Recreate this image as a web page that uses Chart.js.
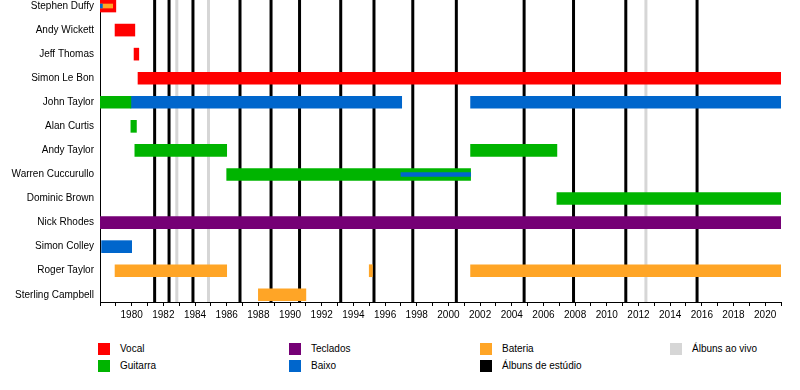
<!DOCTYPE html>
<html>
<head>
<meta charset="utf-8">
<script src="https://cdn.jsdelivr.net/npm/chart.js@4"></script>
<style>
  body { margin: 0; background: #fff; font-family: "Liberation Sans", Arial, sans-serif; }
  #wrap { position: relative; width: 800px; height: 390px; }
  #timeline { position: absolute; left: 0; top: 0; }
  .legend-item { position: absolute; font-size: 10px; color: #000; height: 12px; line-height: 12px; white-space: nowrap; }
  .legend-item .swatch { position: absolute; left: 0; top: 0; width: 12px; height: 12px; }
  .legend-item span { position: absolute; top: 0; }
</style>
</head>
<body>
<div id="wrap">
  <canvas id="timeline" width="800" height="331"></canvas>
  <div id="legend"></div>
</div>
<script>
const members = [
    'Stephen Duffy', 'Andy Wickett', 'Jeff Thomas', 'Simon Le Bon', 'John Taylor',
    'Alan Curtis', 'Andy Taylor', 'Warren Cuccurullo', 'Dominic Brown', 'Nick Rhodes',
    'Simon Colley', 'Roger Taylor', 'Sterling Campbell',
];

// [member, start, end] in decimal years
const vocalSpans = [
    ['Stephen Duffy', 1978.0, 1979.0],
    ['Andy Wickett', 1978.95, 1980.2],
    ['Jeff Thomas', 1980.15, 1980.45],
    ['Simon Le Bon', 1980.4, 2021],
];
const guitarSpans = [
    ['John Taylor', 1978.0, 1979.95],
    ['Alan Curtis', 1979.95, 1980.3],
    ['Andy Taylor', 1980.2, 1986.0],
    ['Andy Taylor', 2001.4, 2006.85],
    ['Warren Cuccurullo', 1986.0, 2001.4],
    ['Dominic Brown', 2006.85, 2021],
];
const bassSpans = [
    ['John Taylor', 1979.95, 1997.05],
    ['John Taylor', 2001.4, 2021],
    ['Simon Colley', 1978.1, 1980.0],
];
const keyboardSpans = [
    ['Nick Rhodes', 1978.0, 2021],
];
const drumSpans = [
    ['Roger Taylor', 1978.95, 1986.0],
    ['Roger Taylor', 1995.0, 1995.2],
    ['Roger Taylor', 2001.4, 2021],
    ['Sterling Campbell', 1988.0, 1991.0],
];
// secondary roles, shown as thin stripes inside the main bar
const drumStripes = [
    ['Stephen Duffy', 1978.0, 1978.8],
];
const bassStripes = [
    ['Stephen Duffy', 1978.0, 1978.15],
    ['Warren Cuccurullo', 1997.0, 2001.4],
];

const studioAlbums = [1981.45, 1982.36, 1983.87, 1986.84, 1988.8, 1990.6, 1993.2, 1995.3, 1997.75, 2000.5, 2004.78, 2007.9, 2011.2, 2015.7];
const liveAlbums = [1982.85, 1984.85, 2012.47];

const yearTicks = [1980, 1982, 1984, 1986, 1988, 1990, 1992, 1994, 1996, 1998, 2000, 2002, 2004, 2006, 2008, 2010, 2012, 2014, 2016, 2018, 2020];

const COLORS = {
    vocal: '#ff0000',
    guitar: '#00b400',
    bass: '#0066cc',
    keys: '#750075',
    drums: '#ffa526',
    studio: '#000000',
    live: '#d6d6d6',
};

const toPoints = spans => spans.map(([name, start, end]) => ({ y: members.indexOf(name), x: [start, end] }));

function barSet(label, spans, color, thick, order) {
    return {
        label,
        data: toPoints(spans),
        backgroundColor: color,
        borderWidth: 0,
        borderSkipped: false,
        barThickness: thick,
        grouped: false,
        order,
    };
}

const albumLines = {
    id: 'albumLines',
    beforeDatasetsDraw(chart) {
        const { ctx, chartArea, scales } = chart;
        ctx.save();
        ctx.lineWidth = 3;
        const draw = (years, color) => {
            ctx.strokeStyle = color;
            years.forEach(year => {
                const x = scales.x.getPixelForValue(year);
                ctx.beginPath();
                ctx.moveTo(x, chartArea.top);
                ctx.lineTo(x, chartArea.bottom);
                ctx.stroke();
            });
        };
        draw(liveAlbums, COLORS.live);
        draw(studioAlbums, COLORS.studio);
        ctx.restore();
    },
};

new Chart(document.getElementById('timeline').getContext('2d'), {
    type: 'bar',
    data: {
        datasets: [
            barSet('Vocal', vocalSpans, COLORS.vocal, 12, 2),
            barSet('Guitarra', guitarSpans, COLORS.guitar, 12, 2),
            barSet('Baixo', bassSpans, COLORS.bass, 12, 2),
            barSet('Teclados', keyboardSpans, COLORS.keys, 12, 2),
            barSet('Bateria', drumSpans, COLORS.drums, 12, 2),
            barSet('Bateria (2)', drumStripes, COLORS.drums, 4, 1),
            barSet('Baixo (2)', bassStripes, COLORS.bass, 4, 0),
        ],
    },
    options: {
        indexAxis: 'y',
        responsive: false,
        animation: false,
        devicePixelRatio: 1,
        layout: { autoPadding: false, padding: { top: 0, right: 19, bottom: 0, left: 0 } },
        plugins: {
            legend: { display: false },
            tooltip: { enabled: false },
        },
        scales: {
            x: {
                type: 'linear',
                min: 1978,
                max: 2021,
                afterFit: scale => { scale.height = 29; },
                ticks: {
                    stepSize: 1,
                    autoSkip: false,
                    maxRotation: 0,
                    padding: 3,
                    color: '#000',
                    font: { family: '"Liberation Sans", Arial, sans-serif', size: 10 },
                    callback: value => (yearTicks.includes(value) ? String(value) : ''),
                },
                grid: { drawOnChartArea: false, drawTicks: true, tickLength: 4, color: '#000' },
                border: { display: true, color: '#000', width: 1 },
            },
            y: {
                type: 'linear',
                reverse: true,
                offset: false,
                min: -0.25,
                max: 12.3,
                afterFit: scale => {
                    scale.width = 100;
                    scale.paddingTop = 0;
                    scale.paddingBottom = 0;
                },
                afterBuildTicks: scale => { scale.ticks = members.map((m, i) => ({ value: i })); },
                ticks: {
                    padding: 6,
                    color: '#000',
                    font: { family: '"Liberation Sans", Arial, sans-serif', size: 10 },
                    callback: value => members[value],
                },
                grid: { offset: false, drawOnChartArea: false, drawTicks: false },
                border: { display: true, color: '#000', width: 1 },
            },
        },
    },
    plugins: [albumLines],
});

// legend, laid out in four columns like the original
const legendItems = [
    { text: 'Vocal', color: COLORS.vocal, left: 98, top: 343 },
    { text: 'Guitarra', color: COLORS.guitar, left: 98, top: 360 },
    { text: 'Teclados', color: COLORS.keys, left: 289, top: 343 },
    { text: 'Baixo', color: COLORS.bass, left: 289, top: 360 },
    { text: 'Bateria', color: COLORS.drums, left: 480, top: 343 },
    { text: 'Álbuns de estúdio', color: COLORS.studio, left: 480, top: 360 },
    { text: 'Álbuns ao vivo', color: COLORS.live, left: 670, top: 343 },
];
const legendEl = document.getElementById('legend');
legendItems.forEach(item => {
    const div = document.createElement('div');
    div.className = 'legend-item';
    div.style.left = item.left + 'px';
    div.style.top = item.top + 'px';
    div.innerHTML = `<div class="swatch" style="background:${item.color}"></div><span style="left:22px">${item.text}</span>`;
    legendEl.appendChild(div);
});
</script>
</body>
</html>
